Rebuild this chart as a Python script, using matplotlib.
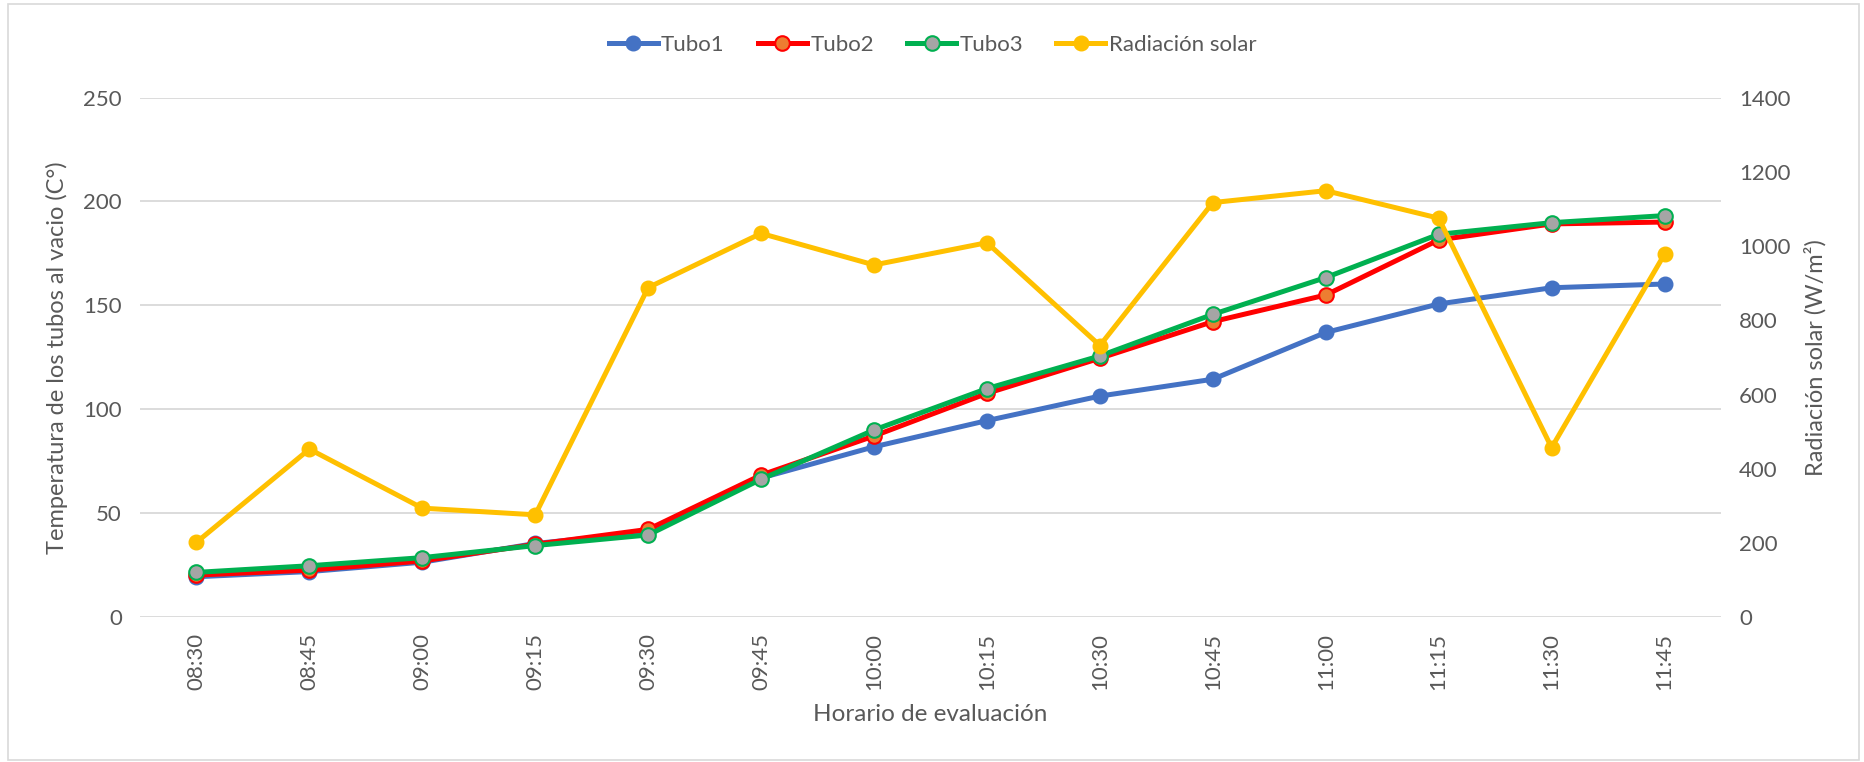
import matplotlib
matplotlib.use("Agg")
import matplotlib.pyplot as plt
from matplotlib.patches import Rectangle

plt.rcParams['font.family'] = ['Lato', 'DejaVu Sans']

horas = ["08:30", "08:45", "09:00", "09:15", "09:30", "09:45", "10:00",
         "10:15", "10:30", "10:45", "11:00", "11:15", "11:30", "11:45"]
tubo1 = [19.5, 22, 26.5, 35.5, 41, 67, 82, 94.6, 106.4, 114.5, 137, 150.7, 158.5, 160.3]
tubo2 = [20.3, 22.7, 27.1, 35.1, 42.3, 68.4, 87.2, 107.7, 124.6, 142.2, 155, 181.5, 189.2, 190.1]
tubo3 = [21.6, 24.8, 28.7, 34.5, 39.6, 66.4, 90.1, 110, 125.7, 145.7, 163.4, 184.2, 189.8, 193.2]
radiacion = [202, 453, 294, 276, 888, 1034, 949, 1009, 732, 1117, 1149, 1075, 457, 978]

W, H = 1865, 762
fig = plt.figure(figsize=(W / 100, H / 100), dpi=100)
ax = fig.add_axes([140 / W, 1 - 617.3 / H, (1721 - 140) / W, (617.3 - 97.5) / H])
ax2 = ax.twinx()

txt = "#595959"
grid = "#D9D9D9"
lw = 3.6
ms = 10.5

x = list(range(len(horas)))
l1, = ax.plot(x, tubo1, color="#4472C4", lw=lw, marker="o", ms=ms,
              mfc="#4472C4", mec="#4472C4", label="Tubo1", solid_joinstyle="round")
l2, = ax.plot(x, tubo2, color="#FF0000", lw=lw, marker="o", ms=ms,
              mfc="#ED7D31", mec="#FF0000", mew=1.5, label="Tubo2", solid_joinstyle="round")
l3, = ax.plot(x, tubo3, color="#00B050", lw=lw, marker="o", ms=ms,
              mfc="#A5A5A5", mec="#00B050", mew=1.5, label="Tubo3", solid_joinstyle="round")
l4, = ax2.plot(x, radiacion, color="#FFC000", lw=lw, marker="o", ms=ms,
               mfc="#FFC000", mec="#FFC000", label="Radiación solar", solid_joinstyle="round")

ax.set_xlim(-0.5, len(horas) - 0.5)
ax.set_ylim(0, 250)
ax2.set_ylim(0, 1400)
ax.set_yticks(range(0, 251, 50))
ax2.set_yticks(range(0, 1401, 200))
ax.set_xticks(x)
ax.set_xticklabels(horas, rotation=90)

ax.grid(axis="y", color=grid, lw=1.3)
ax.set_axisbelow(True)
for a in (ax, ax2):
    for s in ("top", "left", "right", "bottom"):
        a.spines[s].set_visible(False)
ax.tick_params(axis="both", length=0, labelsize=16, labelcolor=txt)
ax.tick_params(axis="y", pad=13)
ax.tick_params(axis="x", pad=11)
ax2.tick_params(axis="y", length=0, labelsize=16, labelcolor=txt, pad=13)

ax.set_ylabel("Temperatura de los tubos al vacio (C°)", fontsize=17, color=txt, labelpad=11)
ax2.set_ylabel("Radiación solar (W/m²)", fontsize=17, color=txt, labelpad=10)
ax.set_xlabel("Horario de evaluación", fontsize=17.5, color=txt, labelpad=10)

fig.legend(handles=[l1, l2, l3, l4], loc="center", bbox_to_anchor=(0.5, 1 - 45 / H),
           ncol=4, frameon=False, fontsize=16, labelcolor=txt, handlelength=2.2,
           handletextpad=0.15, columnspacing=1.5)

fig.patches.append(Rectangle((8 / W, 2 / H), (W - 14) / W, (H - 6) / H,
                             transform=fig.transFigure, fill=False,
                             edgecolor=grid, lw=1.2))

fig.savefig("out.png", dpi=100)
